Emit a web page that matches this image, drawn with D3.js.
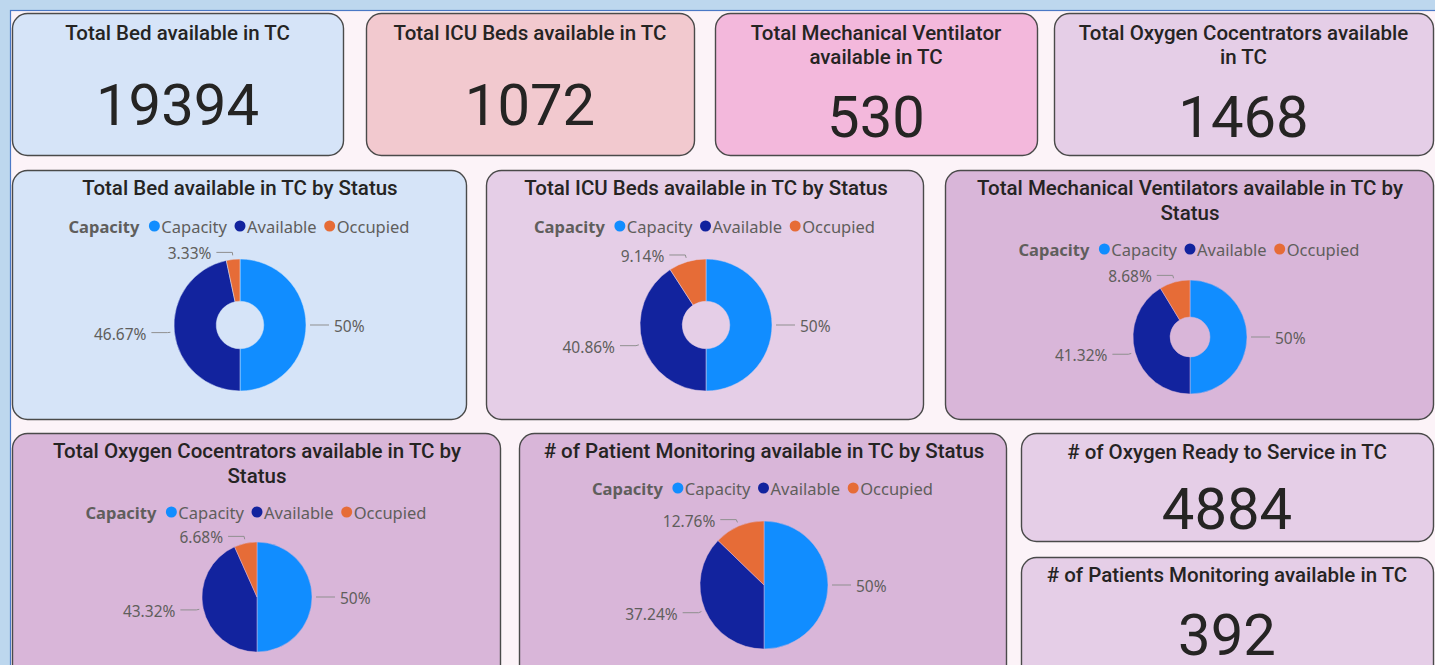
<!DOCTYPE html>
<html lang="en">
<head>
<meta charset="UTF-8">
<title>TC Equipment Status</title>
<script src="https://d3js.org/d3.v7.min.js"></script>
<style>
  html, body { margin: 0; padding: 0; background: #bdd7ee; overflow: hidden; }
  svg { display: block; }
</style>
</head>
<body>
<svg id="board" width="1435" height="665"></svg>
<script>
// KPI cards
const kpiTitles = [
  "Total Bed available in TC",
  "Total ICU Beds available in TC",
  "Total Mechanical Ventilator\navailable in TC",
  "Total Oxygen Cocentrators available\nin TC",
  "# of Oxygen Ready to Service in TC",
  "# of Patients Monitoring available in TC"
];
const kpiValues = [19394, 1072, 530, 1468, 4884, 392];

// status charts
const pieTitles = [
  "Total Bed available in TC by Status",
  "Total ICU Beds available in TC by Status",
  "Total Mechanical Ventilators available in TC by\nStatus",
  "Total Oxygen Cocentrators available in TC by\nStatus",
  "# of Patient Monitoring available in TC by Status"
];
const statusNames = ["Capacity", "Available", "Occupied"];
const capacityPct  = [50, 50, 50, 50, 50];
const availablePct = [46.67, 40.86, 41.32, 43.32, 37.24];
const occupiedPct  = [3.33, 9.14, 8.68, 6.68, 12.76];

const colour = d3.scaleOrdinal().domain(statusNames).range(["#118dff", "#12239e", "#e66c37"]);

const svg = d3.select("#board");

// report canvas
svg.append("rect").attr("x", 10.5).attr("y", 10.5).attr("width", 1440).attr("height", 670)
  .attr("fill", "#fcf3f8").attr("stroke", "#4a78c6").attr("stroke-width", 1.2);

// where things sit on the page
const kpiLayout = [
  { x: 12, y: 13, w: 331, h: 142, fill: "#d6e4f8", ty: 40, vy: 125 },
  { x: 366, y: 13, w: 328, h: 142, fill: "#f2c9cf", ty: 40, vy: 125 },
  { x: 715, y: 13, w: 322, h: 142, fill: "#f3b8dc", ty: 40, vy: 137 },
  { x: 1054, y: 13, w: 379, h: 142, fill: "#e5cee7", ty: 40, vy: 137 },
  { x: 1021, y: 433, w: 412, h: 108, fill: "#e5cee7", ty: 459, vy: 529 },
  { x: 1021, y: 557, w: 412, h: 130, fill: "#e5cee7", ty: 582, vy: 655 }
];
const pieLayout = [
  { x: 12, y: 170, w: 454, h: 249, fill: "#d6e4f8", cx: 240, cy: 325, r: 66, hole: 0.36, ty: 195, ly: 226 },
  { x: 486, y: 170, w: 437, h: 249, fill: "#e5cee7", cx: 706, cy: 325, r: 66, hole: 0.36, ty: 195, ly: 226 },
  { x: 945, y: 170, w: 488, h: 249, fill: "#d9b6d9", cx: 1190, cy: 337, r: 57, hole: 0.35, ty: 195, ly: 249 },
  { x: 12, y: 433, w: 488, h: 260, fill: "#d9b6d9", cx: 257, cy: 597, r: 55, hole: 0, ty: 458, ly: 512 },
  { x: 519, y: 433, w: 487, h: 260, fill: "#d9b6d9", cx: 764, cy: 585, r: 64, hole: 0, ty: 458, ly: 488 }
];

function card(g, L) {
  g.append("rect")
    .attr("x", L.x + 0.5).attr("y", L.y + 0.5).attr("width", L.w).attr("height", L.h)
    .attr("rx", 15).attr("ry", 15)
    .attr("fill", L.fill).attr("stroke", "#4a4a4a").attr("stroke-width", 1.4);
}

function titleLines(g, text, cx, y, size, step) {
  text.split("\n").forEach((line, i) => {
    g.append("text")
      .attr("x", cx).attr("y", y + i * step)
      .attr("text-anchor", "middle")
      .attr("font-family", "Roboto, sans-serif")
      .attr("font-weight", 500)
      .attr("font-size", size)
      .attr("fill", "#252423")
      .text(line);
  });
}

// KPI cards
kpiValues.forEach((v, i) => {
  const L = kpiLayout[i];
  const g = svg.append("g");
  card(g, L);
  const cx = L.x + L.w / 2;
  titleLines(g, kpiTitles[i], cx, L.ty, 20.5, 24);
  g.append("text")
    .attr("x", cx).attr("y", L.vy)
    .attr("text-anchor", "middle")
    .attr("font-family", "Roboto, sans-serif")
    .attr("font-size", 58)
    .attr("fill", "#252423")
    .text(v);
});

// status pies / donuts
pieTitles.forEach((t, i) => {
  const L = pieLayout[i];
  const g = svg.append("g");
  card(g, L);
  const cx = L.x + L.w / 2;
  titleLines(g, t, L.cx, L.ty, 20.5, 25);

  // legend
  const leg = g.append("g");
  let lx = 0;
  const head = leg.append("text").attr("x", 0).attr("y", 0)
    .attr("dominant-baseline", "central")
    .attr("font-family", "'Noto Sans', sans-serif").attr("font-weight", 700)
    .attr("font-size", 16.5).attr("fill", "#605e5c").text("Capacity");
  lx = head.node().getComputedTextLength() + 10;
  statusNames.forEach(name => {
    leg.append("circle").attr("cx", lx + 5).attr("cy", 0).attr("r", 5.5).attr("fill", colour(name));
    const tx = leg.append("text").attr("x", lx + 12).attr("y", 0)
      .attr("dominant-baseline", "central")
      .attr("font-family", "'Noto Sans', sans-serif")
      .attr("font-size", 16.5).attr("fill", "#605e5c").text(name);
    lx += 12 + tx.node().getComputedTextLength() + 8;
  });
  lx -= 8;
  leg.attr("transform", `translate(${cx - lx / 2},${L.ly})`);

  // slices
  const vals = [capacityPct[i], availablePct[i], occupiedPct[i]];
  const slices = d3.pie().sort(null)(vals)
    .map((s, k) => Object.assign(s, { name: statusNames[k] }));
  const arc = d3.arc().innerRadius(L.r * L.hole).outerRadius(L.r);
  const pg = g.append("g").attr("transform", `translate(${L.cx},${L.cy})`);
  pg.selectAll("path").data(slices).join("path")
    .attr("d", arc)
    .attr("fill", d => colour(d.name))
    .attr("stroke", L.fill).attr("stroke-width", 0.5);

  // leader lines and labels
  const fmt = v => (Number.isInteger(v) ? v : v.toFixed(2)) + "%";
  slices.forEach(s => {
    const a = (s.startAngle + s.endAngle) / 2;
    const pt = rr => [Math.sin(a) * rr, -Math.cos(a) * rr];
    const p0 = pt(L.r + 4), p1 = pt(L.r + 7);
    const dir = Math.sin(a) >= 0 ? 1 : -1;
    const p2 = [p1[0] + dir * 16, p1[1]];
    pg.append("polyline")
      .attr("points", [p0, p1, p2].map(p => p.join(",")).join(" "))
      .attr("fill", "none").attr("stroke", "#8f8f8f").attr("stroke-width", 1);
    pg.append("text")
      .attr("x", p2[0] + dir * 5).attr("y", p2[1] + 1)
      .attr("text-anchor", dir > 0 ? "start" : "end")
      .attr("dominant-baseline", "central")
      .attr("font-family", "'Noto Sans', sans-serif")
      .attr("font-size", 15.5).attr("fill", "#605e5c")
      .text(fmt(s.data));
  });
});
</script>
</body>
</html>
